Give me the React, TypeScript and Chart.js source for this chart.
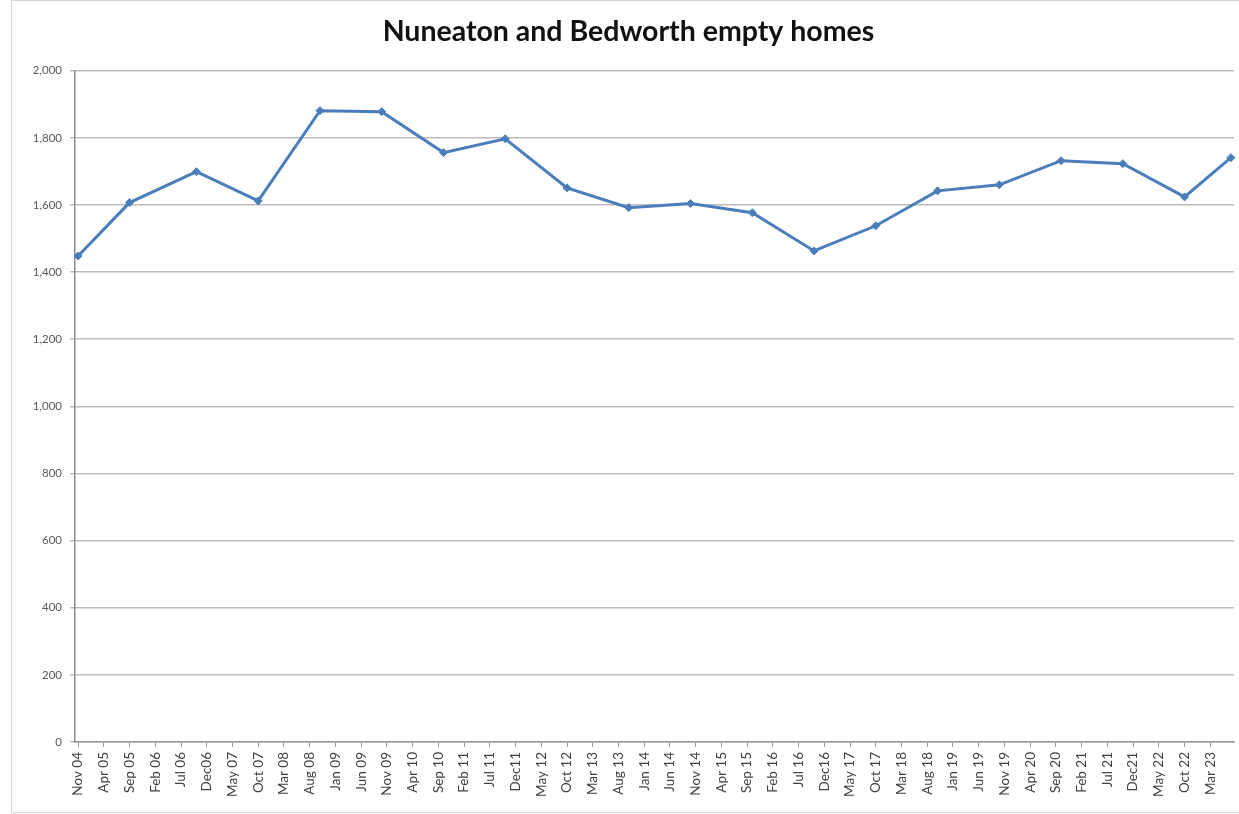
import React, { useEffect, useRef } from "react";
import { Chart, registerables } from "chart.js";

Chart.register(...registerables);

const title = "Nuneaton and Bedworth empty homes";

const tickLabels = [
  "Nov 04", "Apr 05", "Sep 05", "Feb 06", "Jul 06", "Dec06", "May 07", "Oct 07", "Mar 08",
  "Aug 08", "Jan 09", "Jun 09", "Nov 09", "Apr 10", "Sep 10", "Feb 11", "Jul 11", "Dec11",
  "May 12", "Oct 12", "Mar 13", "Aug 13", "Jan 14", "Jun 14", "Nov 14", "Apr 15", "Sep 15",
  "Feb 16", "Jul 16", "Dec16", "May 17", "Oct 17", "Mar 18", "Aug 18", "Jan 19", "Jun 19",
  "Nov 19", "Apr 20", "Sep 20", "Feb 21", "Jul 21", "Dec21", "May 22", "Oct 22", "Mar 23",
];

const pointDates = [
  "Nov 04", "Sep 05", "Oct 06", "Oct 07", "Oct 08", "Oct 09", "Oct 10", "Oct 11", "Oct 12",
  "Oct 13", "Oct 14", "Oct 15", "Oct 16", "Oct 17", "Oct 18", "Oct 19", "Oct 20", "Oct 21",
  "Oct 22", "Jul 23",
];

const emptyHomes = [
  1448, 1607, 1699, 1612, 1881, 1878, 1756, 1797, 1651, 1592, 1604, 1577, 1463, 1538, 1642,
  1660, 1732, 1723, 1624, 1741,
];

const MONTHS = ["Jan", "Feb", "Mar", "Apr", "May", "Jun", "Jul", "Aug", "Sep", "Oct", "Nov", "Dec"];
const monthIndex = (s: string) => {
  const [m, y] = s.split(" ");
  return (2000 + parseInt(y, 10)) * 12 + MONTHS.indexOf(m) - (2004 * 12 + 10);
};

const FONT = "Lato, 'Liberation Sans', sans-serif";

export default function App() {
  const ref = useRef<HTMLCanvasElement | null>(null);
  useEffect(() => {
    if (!ref.current) return;
    const chart = new Chart(ref.current, {
      type: "line",
      data: {
        datasets: [
          {
            data: pointDates.map((d, i) => ({ x: monthIndex(d), y: emptyHomes[i] })),
            borderColor: "#4a7ebb",
            backgroundColor: "#4a7ebb",
            borderWidth: 3,
            pointStyle: "rectRot",
            pointRadius: 4,
            pointBorderWidth: 1,
            tension: 0,
            clip: false,
          },
        ],
      },
      options: {
        animation: false,
        responsive: false,
        layout: { padding: { left: 18, right: 0, top: 0, bottom: 0 } },
        plugins: {
          legend: { display: false },
          tooltip: { enabled: false },
          title: {
            display: true,
            text: title,
            color: "#111",
            font: { family: FONT, size: 28.5, weight: "bold" },
            padding: { top: 15, bottom: 21.5 },
          },
        },
        scales: {
          x: {
            type: "linear",
            min: -0.6,
            max: 224.6,
            afterBuildTicks: (scale: any) => {
              scale.ticks = tickLabels.map((_, i) => ({ value: i * 5 }));
            },
            afterFit: (scale: any) => {
              scale.height = 72;
            },
            ticks: {
              autoSkip: false,
              maxRotation: 90,
              minRotation: 90,
              padding: 5,
              color: "#404040",
              font: { family: FONT, size: 13.5 },
              callback: (v: any) => tickLabels[Math.round(Number(v) / 5)] ?? "",
            },
            grid: {
              drawOnChartArea: false,
              drawTicks: true,
              tickLength: 5,
              color: "#9a9a9a",
              lineWidth: 1,
            },
            border: { color: "#9a9a9a", width: 1.5 },
          },
          y: {
            min: 0,
            max: 2000,
            afterFit: (scale: any) => {
              scale.width = 57;
            },
            ticks: {
              stepSize: 200,
              padding: 8,
              color: "#595959",
              font: { family: FONT, size: 11.5 },
              callback: (v: any) => Number(v).toLocaleString("en-US"),
            },
            grid: {
              color: "#bcbcbc",
              lineWidth: 1.5,
              tickLength: 5,
            },
            border: { color: "#8a8a8a", width: 1.5 },
          },
        },
      },
    } as any);
    return () => chart.destroy();
  }, []);

  return (
    <div style={{ position: "fixed", left: 0, top: 0, width: 1239, height: 814, background: "#fff", overflow: "hidden" }}>
      <div
        style={{
          position: "absolute",
          left: 11,
          top: 0,
          right: 0,
          height: 811,
          borderLeft: "1px solid #d4d4d4",
          borderTop: "1px solid #d4d4d4",
          borderBottom: "1px solid #d4d4d4",
        }}
      />
      <canvas ref={ref} width={1239} height={814} style={{ position: "absolute", left: 0, top: 0 }} />
    </div>
  );
}
